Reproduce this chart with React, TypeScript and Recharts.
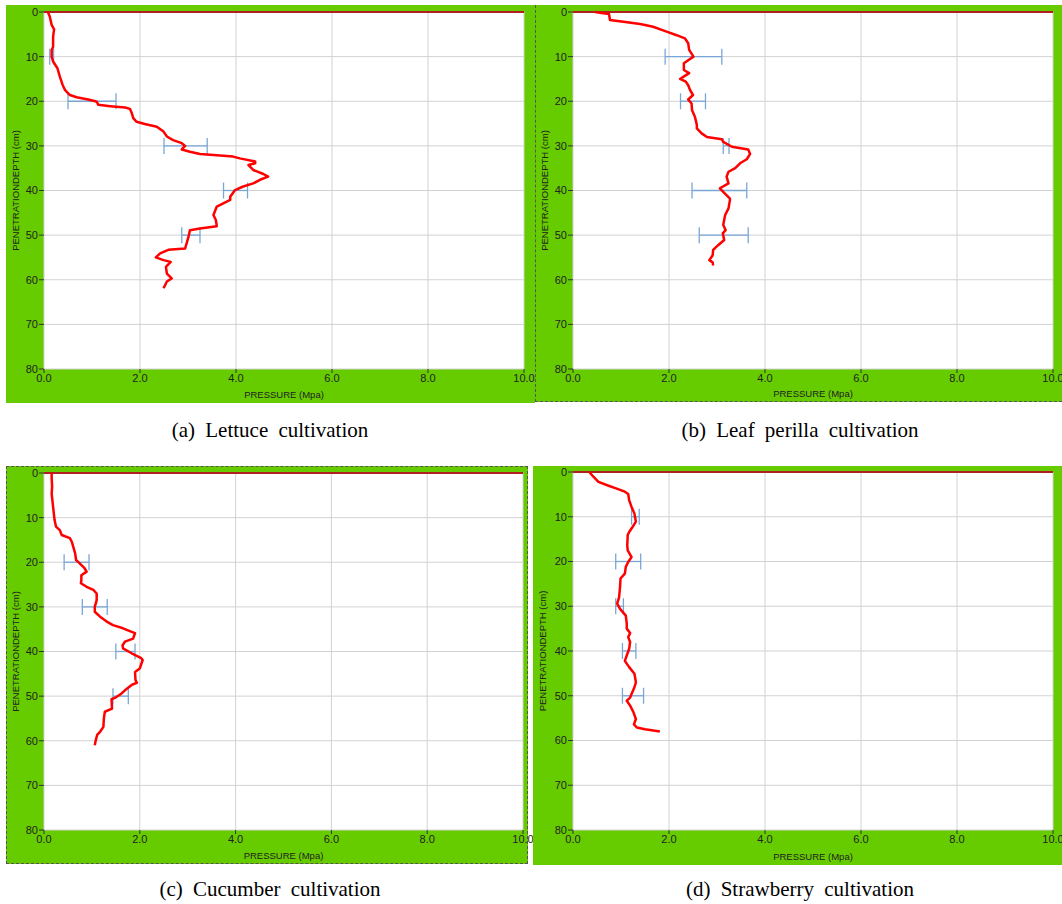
import React from "react";
import {
  CartesianGrid,
  ErrorBar,
  ReferenceLine,
  Scatter,
  ScatterChart,
  XAxis,
  YAxis,
} from "recharts";

// [depth (cm), pressure (MPa)]
const lettuceProfile = [
  [0, 0.08], [1.0, 0.12], [2.9, 0.16], [3.9, 0.21], [5.5, 0.19], [7.8, 0.19],
  [8.5, 0.16], [10, 0.16], [11.1, 0.19], [12.6, 0.28], [14.5, 0.33], [16.4, 0.39],
  [17.5, 0.44], [18.6, 0.54], [19.1, 0.68], [19.6, 0.92], [19.9, 1.03], [20.1, 1.1],
  [20.8, 1.13], [21.1, 1.38], [21.4, 1.69], [21.7, 1.79], [22.7, 1.83], [23.8, 1.86],
  [24.6, 1.93], [25.1, 2.1], [25.7, 2.35], [26.8, 2.49], [27.9, 2.56], [28.7, 2.69],
  [29.4, 2.87], [30.0, 2.94], [30.8, 2.87], [31.3, 3.04], [31.8, 3.25], [32.1, 3.6],
  [32.4, 3.94], [32.8, 4.08], [33.5, 4.4], [33.9, 4.4], [34.3, 4.26], [35.4, 4.36],
  [36.3, 4.57], [36.9, 4.67], [37.6, 4.5], [38.4, 4.36], [39.1, 4.15], [39.9, 3.98],
  [41.4, 3.88], [42.1, 3.88], [43.6, 3.6], [45.5, 3.53], [46.6, 3.58], [48.0, 3.6],
  [48.5, 3.25], [48.9, 3.04], [50.4, 3.01], [53.0, 2.94], [53.3, 2.59], [54.1, 2.42],
  [55.0, 2.33], [55.6, 2.49], [56.0, 2.64], [57.1, 2.54], [58.6, 2.56], [59.7, 2.66],
  [60.4, 2.56], [61.9, 2.49],
];
// [depth, mean, half range]
const lettuceErrors = [[10, 0.16, 0.04], [20, 1.0, 0.5], [30, 2.95, 0.45], [40, 3.99, 0.25], [50, 3.06, 0.19]];

const perillaProfile = [
  [0, 0.46], [0.3, 0.63], [0.45, 0.75], [1.8, 0.77], [2.2, 1.05], [2.7, 1.4],
  [3.3, 1.67], [4.4, 1.95], [5.2, 2.16], [5.9, 2.33], [7.0, 2.4], [8.5, 2.42],
  [10, 2.51], [10.8, 2.4], [11.5, 2.31], [13, 2.31], [13.7, 2.42], [14.3, 2.33],
  [15.0, 2.23], [15.6, 2.35], [16.4, 2.4], [17.5, 2.44], [18.6, 2.5], [19.6, 2.4],
  [20.5, 2.47], [22, 2.48], [23.5, 2.54], [25.3, 2.58], [26.1, 2.58], [27.2, 2.68],
  [28.0, 2.79], [28.5, 3.1], [29.1, 3.13], [30.2, 3.31], [30.8, 3.65], [31.8, 3.69],
  [33.0, 3.62], [33.9, 3.48], [35.0, 3.38], [35.8, 3.24], [36.9, 3.2], [38.4, 3.24],
  [39.5, 3.06], [40.3, 3.13], [41.8, 3.27], [42.1, 3.27], [44.0, 3.24], [45.5, 3.17],
  [47.7, 3.13], [48.9, 3.18], [49.6, 3.12], [51.1, 3.15], [52.2, 3.03], [53.3, 2.92],
  [54.5, 2.91], [55.6, 2.84], [56.1, 2.91], [56.8, 2.92],
];
const perillaErrors = [[10, 2.51, 0.59], [20, 2.5, 0.26], [30, 3.19, 0.06], [40, 3.05, 0.57], [50, 3.14, 0.51]];

const cucumberProfile = [
  [0, 0.16], [1.2, 0.16], [3.1, 0.17], [4.6, 0.16], [7.6, 0.19], [10.5, 0.22],
  [12.0, 0.25], [12.8, 0.33], [13.9, 0.37], [14.6, 0.54], [15.4, 0.58], [16.5, 0.61],
  [18.0, 0.65], [19.5, 0.67], [20.2, 0.74], [21.4, 0.85], [22.1, 0.89], [22.9, 0.78],
  [24.0, 0.78], [24.7, 0.77], [25.5, 0.89], [26.2, 1.03], [27.0, 1.1], [28.5, 1.1],
  [30.0, 1.06], [31.1, 1.06], [32.2, 1.17], [33.3, 1.31], [34.1, 1.44], [34.8, 1.65],
  [35.6, 1.83], [35.9, 1.9], [37.1, 1.86], [37.8, 1.69], [38.6, 1.64], [39.3, 1.65],
  [40.4, 1.83], [41.5, 2.03], [41.9, 2.06], [43.8, 2.0], [44.6, 1.9], [46.4, 1.91],
  [47.0, 1.94], [47.5, 1.83], [48.7, 1.69], [49.4, 1.62], [50.2, 1.51], [50.7, 1.41],
  [52.8, 1.42], [53.5, 1.27], [55.0, 1.25], [56.9, 1.24], [58.0, 1.17], [58.7, 1.11],
  [59.9, 1.08], [61.0, 1.06],
];
const cucumberErrors = [[20, 0.68, 0.26], [30, 1.06, 0.26], [40, 1.7, 0.2], [50, 1.6, 0.16]];

const strawberryProfile = [
  [0, 0.34], [1.0, 0.42], [2.2, 0.53], [2.9, 0.7], [3.7, 0.91], [4.4, 1.08],
  [4.9, 1.15], [6.3, 1.17], [7.8, 1.22], [9.3, 1.28], [11.1, 1.31], [12.3, 1.24],
  [13.4, 1.17], [14.1, 1.14], [16.4, 1.13], [17.5, 1.14], [19.0, 1.22], [20.1, 1.15],
  [21.2, 1.1], [22.7, 1.08], [23.8, 0.99], [25.7, 0.98], [28.0, 0.96], [29.4, 0.92],
  [30.6, 0.98], [32.1, 1.1], [33.9, 1.12], [35.0, 1.12], [36.0, 1.19], [36.9, 1.15],
  [38.0, 1.19], [39.5, 1.17], [41.0, 1.12], [42.2, 1.08], [43.6, 1.17], [45.1, 1.28],
  [47.0, 1.31], [48.1, 1.28], [49.6, 1.22], [50.4, 1.19], [51.1, 1.12], [52.2, 1.19],
  [53.7, 1.26], [55.2, 1.31], [56.4, 1.27], [57.1, 1.33], [57.5, 1.5], [58.0, 1.81],
];
const strawberryErrors = [[10, 1.3, 0.08], [20, 1.15, 0.26], [30, 0.97, 0.08], [40, 1.17, 0.14], [50, 1.25, 0.22]];

const pressureTicks = [0, 2, 4, 6, 8, 10];
const depthTicks = [0, 10, 20, 30, 40, 50, 60, 70, 80];

const GREEN = "#66cc00";
const SANS = "Liberation Sans, Arial, sans-serif";

type Box = { x: number; y: number; w: number; h: number };
type Plot = { l: number; t: number; r: number; b: number };

const Panel = ({ box, plot, profile, errors, dashed }: any) => {
  const b: Box = box;
  const p: Plot = plot;
  const line = profile.map(([d, v]: number[]) => ({ d, p: v }));
  const bars = errors.map(([d, v, e]: number[]) => ({ d, p: v, e }));
  const tickStyle = { fontSize: 11, fill: "#222", fontFamily: SANS };
  const extra = 14; // room for the "10.0" label past the green edge
  return (
    <>
      <div style={{ position: "absolute", left: b.x, top: b.y, width: b.w, height: b.h, background: GREEN, overflow: "visible" }}>
        <ScatterChart
          width={b.w + extra}
          height={b.h}
          margin={{ top: p.t - b.y, right: b.x + b.w - p.r + extra, bottom: 0, left: 0 }}
        >
          <CartesianGrid stroke="#d2d2d2" fill="#ffffff" />
          <XAxis
            type="number"
            dataKey="p"
            domain={[0, 10]}
            ticks={pressureTicks}
            interval={0}
            height={b.y + b.h - p.b}
            tickFormatter={(v: number) => v.toFixed(1)}
            axisLine={false}
            tickLine={{ stroke: "#333" }}
            tickSize={4}
            tickMargin={1}
            tick={tickStyle}
            label={{ value: "PRESSURE  (Mpa)", position: "insideBottom", offset: 5, fontSize: 9.5, fill: "#222", fontFamily: SANS }}
          />
          <YAxis
            type="number"
            dataKey="d"
            domain={[0, 80]}
            reversed
            ticks={depthTicks}
            interval={0}
            width={p.l - b.x}
            axisLine={false}
            tickLine={{ stroke: "#333" }}
            tickSize={5}
            tickMargin={1}
            tick={tickStyle}
            label={{ value: "PENETRATIONDEPTH (cm)", angle: -90, position: "insideLeft", offset: 10, fontSize: 9.5, fill: "#222", fontFamily: SANS, style: { textAnchor: "middle" } }}
          />
          <ReferenceLine y={0} stroke="#b02020" strokeWidth={2} />
          <Scatter
            data={line}
            fill="#ff0000"
            line={{ stroke: "#ff0000", strokeWidth: 2.5, strokeLinejoin: "round" }}
            lineJointType="linear"
            shape={() => <g />}
            isAnimationActive={false}
          />
          <Scatter data={bars} fill="none" shape={() => <g />} isAnimationActive={false}>
            <ErrorBar dataKey="e" direction="x" width={8} stroke="#7aa6d6" strokeWidth={1.3} />
          </Scatter>
        </ScatterChart>
      </div>
      {dashed && (
        <div
          style={{
            position: "absolute",
            left: b.x,
            top: b.y,
            width: b.w,
            height: b.h,
            boxSizing: "border-box",
            pointerEvents: "none",
            ...dashed,
          }}
        />
      )}
    </>
  );
};

const Caption = ({ x, y, text }: any) => (
  <div
    style={{
      position: "absolute",
      left: x - 250,
      top: y,
      width: 500,
      textAlign: "center",
      fontFamily: "Liberation Serif, Times New Roman, serif",
      fontSize: 21,
      wordSpacing: 5,
      color: "#000",
      whiteSpace: "pre",
    }}
  >
    {text}
  </div>
);

export default function App() {
  const dash = "1px dashed #555";
  return (
    <div style={{ position: "absolute", left: 0, top: 0, width: 1062, height: 904, background: "#fff", overflow: "hidden" }}>
      <Panel
        box={{ x: 6, y: 5, w: 529, h: 398 }}
        plot={{ l: 44, t: 12, r: 524, b: 369 }}
        profile={lettuceProfile}
        errors={lettuceErrors}
      />
      <Panel
        box={{ x: 535, y: 5, w: 527, h: 397 }}
        plot={{ l: 573, t: 12, r: 1053, b: 369 }}
        profile={perillaProfile}
        errors={perillaErrors}
        dashed={{ borderLeft: dash, borderBottom: dash }}
      />
      <Panel
        box={{ x: 6, y: 466, w: 522, h: 398 }}
        plot={{ l: 44, t: 473, r: 523, b: 830 }}
        profile={cucumberProfile}
        errors={cucumberErrors}
        dashed={{ border: dash }}
      />
      <Panel
        box={{ x: 533, y: 466, w: 529, h: 399 }}
        plot={{ l: 573, t: 472, r: 1053, b: 830 }}
        profile={strawberryProfile}
        errors={strawberryErrors}
      />
      <Caption x={270} y={418} text="(a) Lettuce cultivation" />
      <Caption x={800} y={418} text="(b) Leaf perilla cultivation" />
      <Caption x={270} y={877} text="(c) Cucumber cultivation" />
      <Caption x={800} y={877} text="(d) Strawberry cultivation" />
    </div>
  );
}
